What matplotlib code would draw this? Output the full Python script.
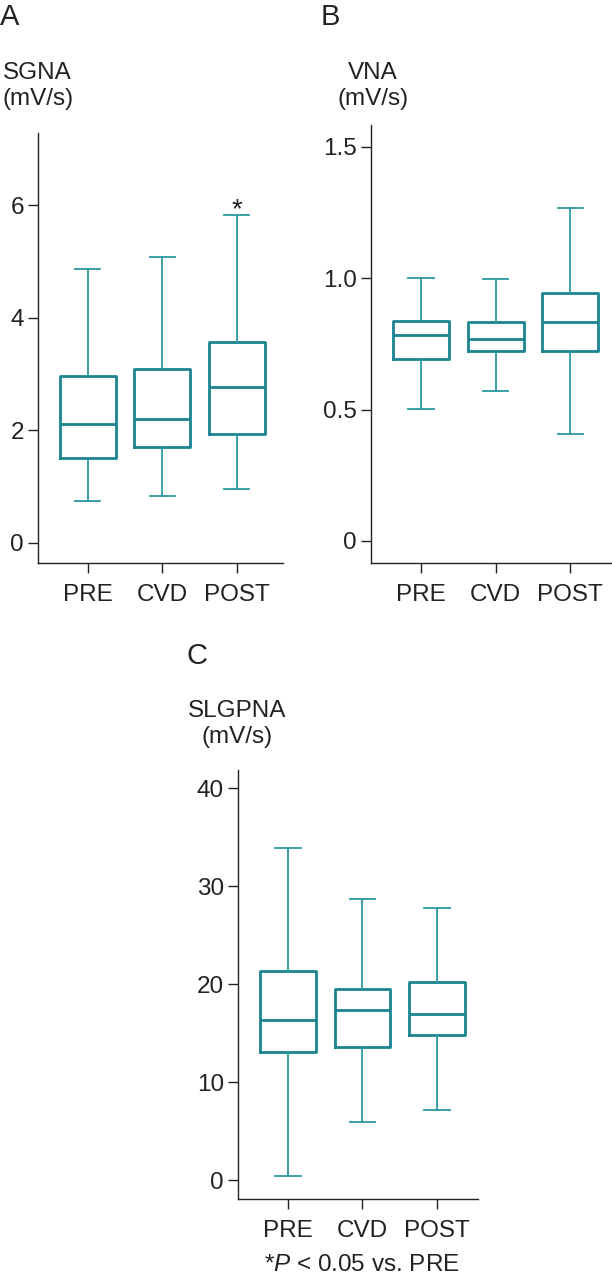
import matplotlib
matplotlib.use("Agg")
from matplotlib import pyplot as plt

plt.rcParams['font.family'] = ['Liberation Sans', 'DejaVu Sans']
plt.rcParams['mathtext.fontset'] = 'custom'
plt.rcParams['mathtext.rm'] = 'Liberation Sans'
plt.rcParams['mathtext.it'] = 'Liberation Sans:italic'

groups = ['PRE', 'CVD', 'POST']

# whisker low, Q1, median, Q3, whisker high
sgna_low = [0.75, 0.83, 0.95]
sgna_q1 = [1.50, 1.70, 1.93]
sgna_med = [2.11, 2.19, 2.76]
sgna_q3 = [2.96, 3.09, 3.56]
sgna_high = [4.86, 5.08, 5.82]

vna_low = [0.502, 0.572, 0.408]
vna_q1 = [0.694, 0.723, 0.723]
vna_med = [0.784, 0.769, 0.832]
vna_q3 = [0.838, 0.832, 0.944]
vna_high = [1.002, 0.996, 1.266]

slg_low = [0.47, 5.92, 7.14]
slg_q1 = [13.06, 13.57, 14.83]
slg_med = [16.4, 17.35, 16.94]
slg_q3 = [21.4, 19.55, 20.23]
slg_high = [33.9, 28.7, 27.8]

box_col = '#1b8490'
whisk_col = '#2b98a3'
W, H = 612, 1280


def make_stats(low, q1, med, q3, high):
    out = []
    for i in range(len(groups)):
        out.append({'whislo': low[i], 'q1': q1[i], 'med': med[i], 'q3': q3[i],
                    'whishi': high[i], 'fliers': [], 'label': groups[i]})
    return out


def panel(px_left, px_right, px_top, px_bottom, stats, ylim, yticks, yticklabels, xright):
    ax = fig.add_axes([px_left / W, 1 - px_bottom / H,
                       (px_right - px_left) / W, (px_bottom - px_top) / H])
    ax.bxp(stats, positions=[0, 1, 2], widths=0.75, capwidths=0.34, showfliers=False,
           boxprops=dict(color=box_col, linewidth=2.0),
           medianprops=dict(color=box_col, linewidth=2.0),
           whiskerprops=dict(color=whisk_col, linewidth=1.3),
           capprops=dict(color=whisk_col, linewidth=1.3))
    ax.set_xlim(-0.67, xright)
    ax.set_ylim(*ylim)
    ax.set_yticks(yticks)
    ax.set_yticklabels(yticklabels)
    ax.set_xticks([0, 1, 2])
    ax.set_xticklabels(groups)
    for s in ['top', 'right']:
        ax.spines[s].set_visible(False)
    for s in ['left', 'bottom']:
        ax.spines[s].set_linewidth(1.0)
        ax.spines[s].set_color('#222222')
    ax.tick_params(length=7, width=1.0, labelsize=17.5, color='#222222', colors='#222222', pad=3)
    ax.tick_params(axis='x', pad=8)
    return ax


fig = plt.figure(figsize=(W / 100, H / 100), dpi=100)

# Panel A
axA = panel(37.7, 283, 133, 563, make_stats(sgna_low, sgna_q1, sgna_med, sgna_q3, sgna_high),
            (-0.36, 7.28), [0, 2, 4, 6], ['0', '2', '4', '6'], 2.62)
axA.text(2, 5.68, '*', ha='center', va='bottom', fontsize=20, color='#222222')

# Panel B
axB = panel(371, 612, 125, 562.7, make_stats(vna_low, vna_q1, vna_med, vna_q3, vna_high),
            (-0.083, 1.583), [0, 0.5, 1.0, 1.5], ['0', '0.5', '1.0', '1.5'], 2.56)

# Panel C
axC = panel(238, 478, 770, 1199.3, make_stats(slg_low, slg_q1, slg_med, slg_q3, slg_high),
            (-1.94, 41.87), [0, 10, 20, 30, 40], ['0', '10', '20', '30', '40'], 2.55)

# labels
def ftext(x, y, s, **kw):
    fig.text(x / W, 1 - y / H, s, color='#222222', **kw)

ftext(10, 17, 'A', fontsize=21, ha='center', va='center')
ftext(330, 17, 'B', fontsize=21, ha='center', va='center')
ftext(197, 656, 'C', fontsize=21, ha='center', va='center')

ftext(37.7, 86, 'SGNA\n(mV/s)', fontsize=17.5, ha='center', va='center', multialignment='center', linespacing=1.2)
ftext(373, 86, 'VNA\n(mV/s)', fontsize=17.5, ha='center', va='center', multialignment='center', linespacing=1.2)
ftext(237.5, 724, 'SLGPNA\n(mV/s)', fontsize=17.5, ha='center', va='center', multialignment='center', linespacing=1.2)

ftext(362, 1265, r'*$\mathit{P}$ < 0.05 vs. PRE', fontsize=17.5, ha='center', va='center')

fig.savefig('out.png', dpi=100)
